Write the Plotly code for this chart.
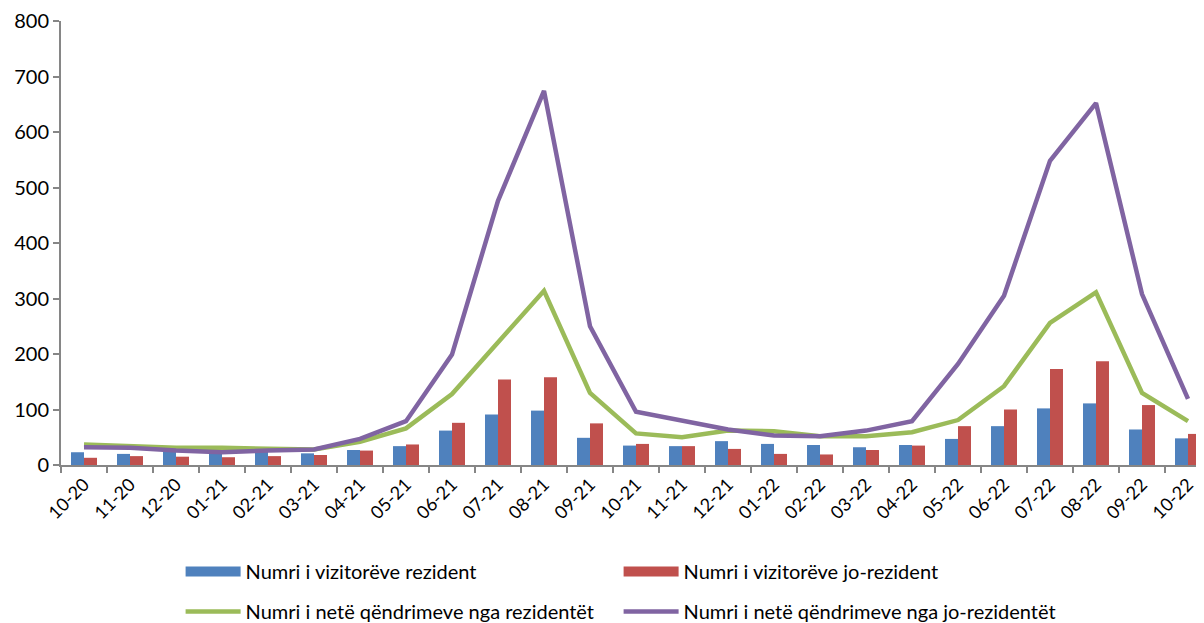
import plotly.graph_objects as go

months = ["10-20","11-20","12-20","01-21","02-21","03-21","04-21","05-21","06-21","07-21",
          "08-21","09-21","10-21","11-21","12-21","01-22","02-22","03-22","04-22","05-22",
          "06-22","07-22","08-22","09-22","10-22"]
resident_visitors = [23, 20, 26, 22, 24, 21, 27, 34, 62, 91, 98, 49, 35, 34, 43, 38, 36, 32, 36, 47,
                     70, 102, 111, 64, 48]
nonresident_visitors = [13, 16, 15, 14, 16, 18, 26, 37, 76, 154, 158, 75, 38, 34, 29, 20, 19, 27, 35, 70,
                        100, 173, 187, 108, 56]
resident_nights = [37, 33, 31, 31, 29, 28, 42, 66, 128, 222, 314, 130, 57, 50, 62, 61, 52, 52, 59, 81,
                   142, 256, 311, 130, 79]
nonresident_nights = [32, 31, 26, 23, 26, 28, 47, 79, 199, 476, 674, 250, 96, 81, 64, 53, 52, 62, 79, 182,
                      305, 548, 652, 308, 119]

names = ["Numri i vizitorëve rezident", "Numri i vizitorëve jo-rezident",
         "Numri i netë qëndrimeve nga rezidentët", "Numri i netë qëndrimeve nga jo-rezidentët"]
colors = ["#4F81BD", "#C0504D", "#9BBB59", "#8064A2"]

font_family = "Lato, Carlito, Calibri, sans-serif"

fig = go.Figure()
fig.add_trace(go.Bar(x=months, y=resident_visitors, name=names[0], marker_color=colors[0],
                     marker_line_width=0, showlegend=False, legendgroup="a"))
fig.add_trace(go.Bar(x=months, y=nonresident_visitors, name=names[1], marker_color=colors[1],
                     marker_line_width=0, showlegend=False, legendgroup="b"))
fig.add_trace(go.Scatter(x=months, y=resident_nights, name=names[2], mode="lines",
                         line=dict(color=colors[2], width=4.5), legend="legend2"))
fig.add_trace(go.Scatter(x=months, y=nonresident_nights, name=names[3], mode="lines",
                         line=dict(color=colors[3], width=4.5), legend="legend2"))
# legend-only entries for the bars (wide rectangular swatches like the original)
for i in range(2):
    fig.add_trace(go.Scatter(x=[None], y=[None], name=names[i], mode="lines",
                             line=dict(color=colors[i], width=12), legend="legend",
                             legendgroup="ab"[i], hoverinfo="skip"))

# page body adds an 8px offset; margins compensate so the plot area lands where the original has it
fig.update_layout(
    width=1204, height=623,
    margin=dict(l=53, r=1, t=13, b=165),
    plot_bgcolor="white", paper_bgcolor="white",
    barmode="group", bargap=0.435, bargroupgap=0,
    font=dict(family=font_family, size=16, color="#000000"),
    legend=dict(orientation="h", x=0.104, xanchor="left", y=-0.193, yanchor="top",
                entrywidth=368, itemwidth=55, font=dict(size=20), bgcolor="rgba(0,0,0,0)"),
    legend2=dict(orientation="h", x=0.104, xanchor="left", y=-0.283, yanchor="top",
                 entrywidth=368, itemwidth=55, font=dict(size=20), bgcolor="rgba(0,0,0,0)"),
    showlegend=True,
)
fig.update_xaxes(type="category", range=[-0.5, 24.5], showline=True, linecolor="#868686", linewidth=2,
                 ticks="outside", tickson="boundaries", ticklen=6, tickcolor="#868686", tickwidth=2,
                 tickangle=-45, showgrid=False, tickfont=dict(size=18), automargin=False)
fig.update_yaxes(range=[0, 800], dtick=100, showline=True, linecolor="#868686", linewidth=2,
                 ticks="outside", ticklen=6, tickcolor="#868686", tickwidth=2, showgrid=False,
                 zeroline=False, tickfont=dict(size=20), automargin=False)

fig.write_html("out.html")
